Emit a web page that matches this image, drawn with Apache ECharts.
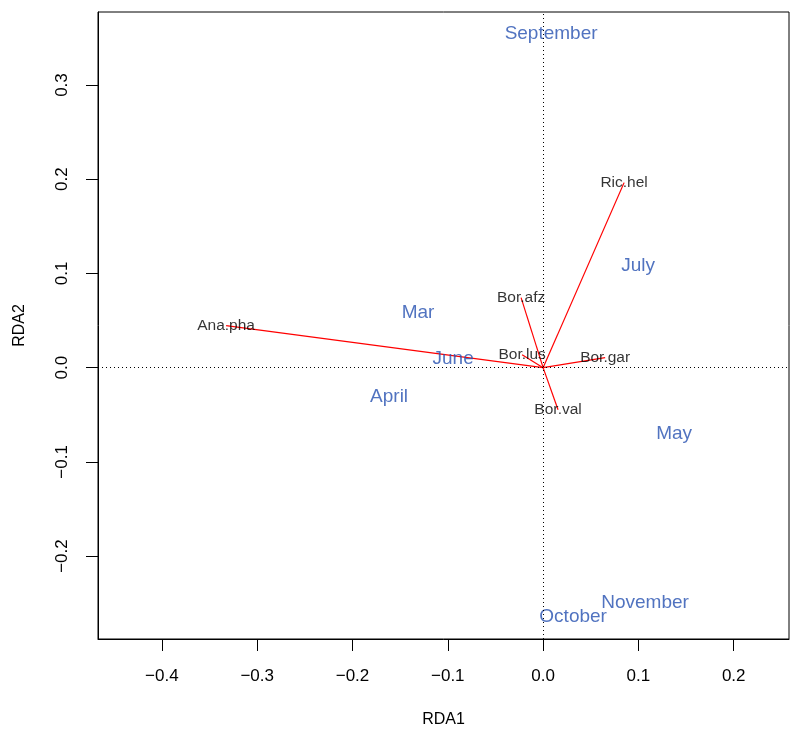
<!DOCTYPE html>
<html>
<head>
<meta charset="utf-8">
<script src="https://cdn.jsdelivr.net/npm/echarts@6/dist/echarts.min.js"></script>
<style>
  html, body { margin: 0; padding: 0; background: #fff; }
  #chart { width: 790px; height: 729px; }
</style>
</head>
<body>
<div id="chart"></div>
<script>
// species arrows (tips)
const speciesNames = ['Ana.pha', 'Bor.afz', 'Bor.lus', 'Bor.gar', 'Bor.val', 'Ric.hel']
const speciesX = [-0.3326, -0.0231, -0.0220, 0.0651, 0.0157, 0.0850]
const speciesY = [0.0446, 0.0743, 0.0138, 0.0106, -0.0446, 0.1964]

// site (month) scores
const siteNames = ['September', 'July', 'Mar', 'June', 'April', 'May', 'November', 'October']
const siteX = [0.0084, 0.0997, -0.1312, -0.0944, -0.1616, 0.1375, 0.1070, 0.0315]
const siteY = [0.3546, 0.1083, 0.0584, 0.0096, -0.0308, -0.0701, -0.2495, -0.2643]

const xTicks = [-0.4, -0.3, -0.2, -0.1, 0.0, 0.1, 0.2]
const yTicks = [-0.2, -0.1, 0.0, 0.1, 0.2, 0.3]

const font = '"Liberation Sans", Arial, Helvetica, sans-serif'
const fmt = v => v.toFixed(1).replace('-', '\u2212')

const chart = echarts.init(document.getElementById('chart'))

const option = {
  animation: false,
  textStyle: { fontFamily: font },
  grid: {
    left: 98, right: 1, top: 12, bottom: 90,
    containLabel: false, outerBoundsMode: 'none',
    show: true, borderColor: '#000', borderWidth: 1
  },
  xAxis: {
    type: 'value',
    min: -0.467, max: 0.258,
    name: 'RDA1', nameLocation: 'middle', nameGap: 73,
    nameTextStyle: { fontSize: 16, color: '#000', fontFamily: font },
    axisLine: { show: true, onZero: false, lineStyle: { color: '#000' } },
    axisTick: { show: true, length: 12, customValues: xTicks, lineStyle: { color: '#000' } },
    axisLabel: { customValues: xTicks, margin: 29, fontSize: 17, color: '#000', formatter: fmt },
    splitLine: { show: false }
  },
  yAxis: {
    type: 'value',
    min: -0.288, max: 0.3775,
    name: 'RDA2', nameLocation: 'middle', nameGap: 70,
    nameTextStyle: { fontSize: 16, color: '#000', fontFamily: font },
    axisLine: { show: true, onZero: false, lineStyle: { color: '#000' } },
    axisTick: { show: true, length: 12, customValues: yTicks, lineStyle: { color: '#000' } },
    axisLabel: { customValues: yTicks, margin: 27, fontSize: 17, color: '#000', rotate: 90, formatter: fmt },
    splitLine: { show: false }
  },
  series: [
    {
      type: 'lines',
      coordinateSystem: 'cartesian2d',
      silent: true,
      lineStyle: { color: '#ff0000', width: 1.2, opacity: 1 },
      data: speciesNames.map((n, i) => ({ coords: [[0, 0], [speciesX[i], speciesY[i]]] })),
      markLine: {
        silent: true,
        symbol: 'none',
        label: { show: false },
        lineStyle: { color: '#000', type: [1, 3], width: 1 },
        data: [{ xAxis: 0 }, { yAxis: 0 }]
      }
    },
    {
      type: 'scatter',
      symbolSize: 0,
      silent: true,
      data: speciesNames.map((n, i) => ({ name: n, value: [speciesX[i], speciesY[i]] })),
      label: {
        show: true, position: 'inside', formatter: p => p.name,
        color: '#000', fontSize: 15.5, fontFamily: font
      }
    },
    {
      type: 'scatter',
      symbolSize: 0,
      silent: true,
      data: siteNames.map((n, i) => ({ name: n, value: [siteX[i], siteY[i]] })),
      label: {
        show: true, position: 'inside', formatter: p => p.name,
        color: '#2550b0', fontSize: 19, fontFamily: font
      }
    }
  ]
}

chart.setOption(option)
</script>
</body>
</html>
